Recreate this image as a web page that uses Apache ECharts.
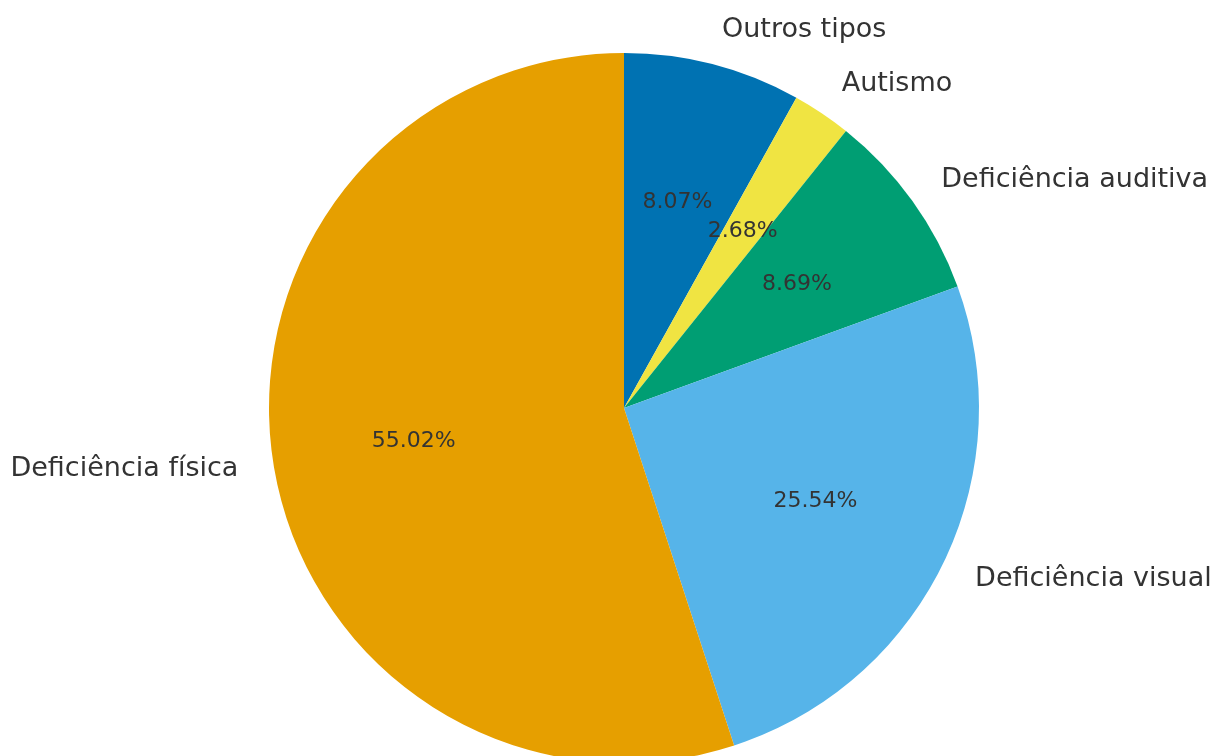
<!DOCTYPE html>
<html>
<head>
<meta charset="utf-8">
<style>
  html, body { margin: 0; padding: 0; background: #ffffff; }
  #chart { width: 1213px; height: 756px; }
</style>
<script src="https://cdn.jsdelivr.net/npm/echarts@6/dist/echarts.min.js"></script>
</head>
<body>
<div id="chart"></div>
<script>
// Distribuição por tipo de deficiência (%)
const categories = ['Outros tipos', 'Autismo', 'Deficiência auditiva', 'Deficiência visual', 'Deficiência física'];
const shares = [8.07, 2.68, 8.69, 25.54, 55.02];
const colors = ['#0072B2', '#F0E442', '#009E73', '#56B4E9', '#E69F00'];

const CX = 624, CY = 408, R = 355;
const FONT = 'DejaVu Sans';

const sliceData = categories.map((name, i) => ({
  name: name,
  value: shares[i],
  itemStyle: { color: colors[i] }
}));

const pctData = categories.map((name, i) => ({ name: name, value: shares[i] }));

const chart = echarts.init(document.getElementById('chart'), null, { renderer: 'canvas' });
chart.setOption({
  backgroundColor: '#ffffff',
  animation: false,
  series: [
    {
      // slices with category names placed just outside the rim
      type: 'pie',
      center: [CX, CY],
      radius: [0, R],
      startAngle: 90,
      clockwise: true,
      avoidLabelOverlap: false,
      silent: true,
      data: sliceData,
      itemStyle: { borderWidth: 0 },
      label: {
        show: true,
        position: 'outside',
        formatter: '{b}',
        color: '#333333',
        fontFamily: FONT,
        fontSize: 27,
        distanceToLabelLine: 0,
        verticalAlign: 'middle'
      },
      labelLine: { show: false, length: R * 0.1, length2: 0 },
      emphasis: { disabled: true }
    },
    {
      // transparent ring carrying the percentage labels at 0.6 R
      type: 'pie',
      center: [CX, CY],
      radius: [R * 0.5 - 3, R * 0.7 - 3],
      startAngle: 90,
      clockwise: true,
      avoidLabelOverlap: false,
      silent: true,
      data: pctData,
      itemStyle: { color: 'rgba(0,0,0,0)', borderWidth: 0 },
      label: {
        show: true,
        position: 'inside',
        formatter: p => p.value.toFixed(2) + '%',
        color: '#333333',
        fontFamily: FONT,
        fontSize: 22
      },
      labelLine: { show: false },
      emphasis: { disabled: true }
    }
  ]
});
</script>
</body>
</html>
